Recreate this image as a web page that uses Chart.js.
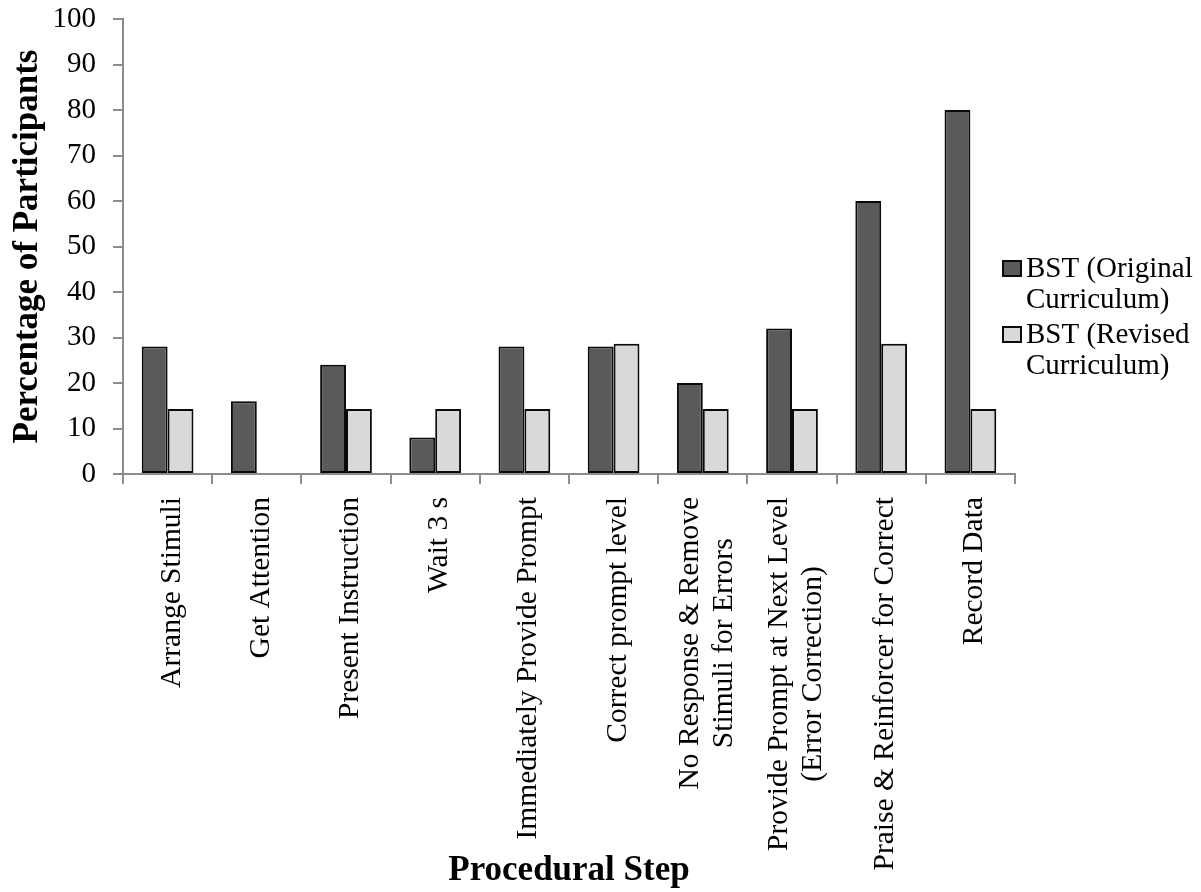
<!DOCTYPE html>
<html>
<head>
<meta charset="utf-8">
<title>Procedural Step Errors</title>
<script src="https://cdn.jsdelivr.net/npm/chart.js@4/dist/chart.umd.min.js"></script>
<style>
  html, body { margin: 0; padding: 0; background: #ffffff; }
  #wrap { position: relative; width: 1201px; height: 892px; }
</style>
</head>
<body>
<div id="wrap"><canvas id="chart" width="1201" height="892"></canvas></div>
<script>
// Procedural steps (multi-line where the label wraps)
const steps = [
  ['Arrange Stimuli'],
  ['Get Attention'],
  ['Present Instruction'],
  ['Wait 3 s'],
  ['Immediately Provide Prompt'],
  ['Correct prompt level'],
  ['No Response & Remove', 'Stimuli for Errors'],
  ['Provide Prompt at Next Level', '(Error Correction)'],
  ['Praise & Reinforcer for Correct'],
  ['Record Data']
];

// Percentage of participants making an error on each step
const originalCurriculum = [28, 16, 24, 8, 28, 28, 20, 32, 60, 80];
const revisedCurriculum = [14.3, 0, 14.3, 14.3, 14.3, 28.6, 14.3, 14.3, 28.6, 14.3];

const seriesNames = ['BST (Original Curriculum)', 'BST (Revised Curriculum)'];
const legendLines = [['BST (Original', 'Curriculum)'], ['BST (Revised', 'Curriculum)']];

const yMin = 0;
const yMax = 100;
const yStep = 10;

const SERIF = '"Liberation Serif", "Times New Roman", serif';
const AXIS_GREY = '#8c8c8c';

// Rotated category labels, each block centred on its tick
const stepLabels = {
  id: 'stepLabels',
  afterDraw(chart) {
    const ctx = chart.ctx;
    const xs = chart.scales.x;
    const lineH = 34;
    const start = xs.top + 23;
    ctx.save();
    ctx.font = '29.5px ' + SERIF;
    ctx.fillStyle = '#000000';
    ctx.textAlign = 'center';
    ctx.textBaseline = 'alphabetic';
    chart.data.labels.forEach((lines, i) => {
      const px = xs.getPixelForValue(i);
      const w = Math.max(...lines.map(l => ctx.measureText(l).width));
      ctx.save();
      ctx.translate(px, start + w / 2);
      ctx.rotate(-Math.PI / 2);
      lines.forEach((line, j) => {
        ctx.fillText(line, 0, 12 + (j - (lines.length - 1) / 2) * lineH);
      });
      ctx.restore();
    });
    ctx.restore();
  }
};

// Legend at the right, overlapping the empty end of the plot
const sideLegend = {
  id: 'sideLegend',
  afterDraw(chart) {
    const ctx = chart.ctx;
    const boxX = 1002, textX = 1026;
    const firstBaselines = [277, 343];
    const lineH = 31;
    ctx.save();
    ctx.font = '29px ' + SERIF;
    ctx.textAlign = 'left';
    ctx.textBaseline = 'alphabetic';
    chart.data.datasets.forEach((ds, i) => {
      const b = firstBaselines[i];
      ctx.fillStyle = ds.backgroundColor;
      ctx.fillRect(boxX, b - 17, 20, 17);
      ctx.lineWidth = 2;
      ctx.strokeStyle = ds.borderColor;
      ctx.strokeRect(boxX + 1, b - 17 + 1, 18, 15);
      ctx.fillStyle = '#000000';
      legendLines[i].forEach((line, j) => ctx.fillText(line, textX, b + j * lineH));
    });
    ctx.restore();
  }
};

new Chart(document.getElementById('chart'), {
  type: 'bar',
  data: {
    labels: steps,
    datasets: [
      {
        label: seriesNames[0],
        data: originalCurriculum,
        backgroundColor: '#5a5a5a',
        borderColor: '#0a0a0a',
        borderWidth: 2,
        borderSkipped: false
      },
      {
        label: seriesNames[1],
        data: revisedCurriculum,
        backgroundColor: '#d9d9d9',
        borderColor: '#0a0a0a',
        borderWidth: 2,
        borderSkipped: false
      }
    ]
  },
  options: {
    responsive: false,
    animation: false,
    events: [],
    devicePixelRatio: 1,
    datasets: {
      bar: { categoryPercentage: 0.58, barPercentage: 1.0 }
    },
    layout: { padding: { top: 19, right: 186, bottom: 0, left: 0 } },
    plugins: {
      legend: { display: false },
      tooltip: { enabled: false }
    },
    scales: {
      x: {
        offset: true,
        grid: {
          offset: true,
          drawOnChartArea: false,
          drawTicks: true,
          tickLength: 10,
          color: AXIS_GREY,
          lineWidth: 2
        },
        border: { display: true, color: AXIS_GREY, width: 2 },
        ticks: { display: false },
        title: {
          display: true,
          text: 'Procedural Step',
          color: '#000000',
          font: { family: SERIF, size: 35, weight: 'bold' },
          padding: { top: 0, bottom: 0 }
        },
        afterFit(scale) { scale.height = 418; }
      },
      y: {
        min: yMin,
        max: yMax,
        grid: {
          drawOnChartArea: false,
          drawTicks: true,
          tickLength: 10,
          color: AXIS_GREY,
          lineWidth: 2
        },
        border: { display: true, color: AXIS_GREY, width: 2 },
        ticks: {
          stepSize: yStep,
          color: '#000000',
          padding: 17,
          font: { family: SERIF, size: 29 }
        },
        title: {
          display: true,
          text: 'Percentage of Participants',
          color: '#000000',
          font: { family: SERIF, size: 35, weight: 'bold' },
          padding: { top: 7, bottom: 0 }
        },
        afterFit(scale) {
          scale.width = 123;
          scale.paddingTop = 0;
          scale.paddingBottom = 0;
        }
      }
    }
  },
  plugins: [stepLabels, sideLegend]
});
</script>
</body>
</html>
